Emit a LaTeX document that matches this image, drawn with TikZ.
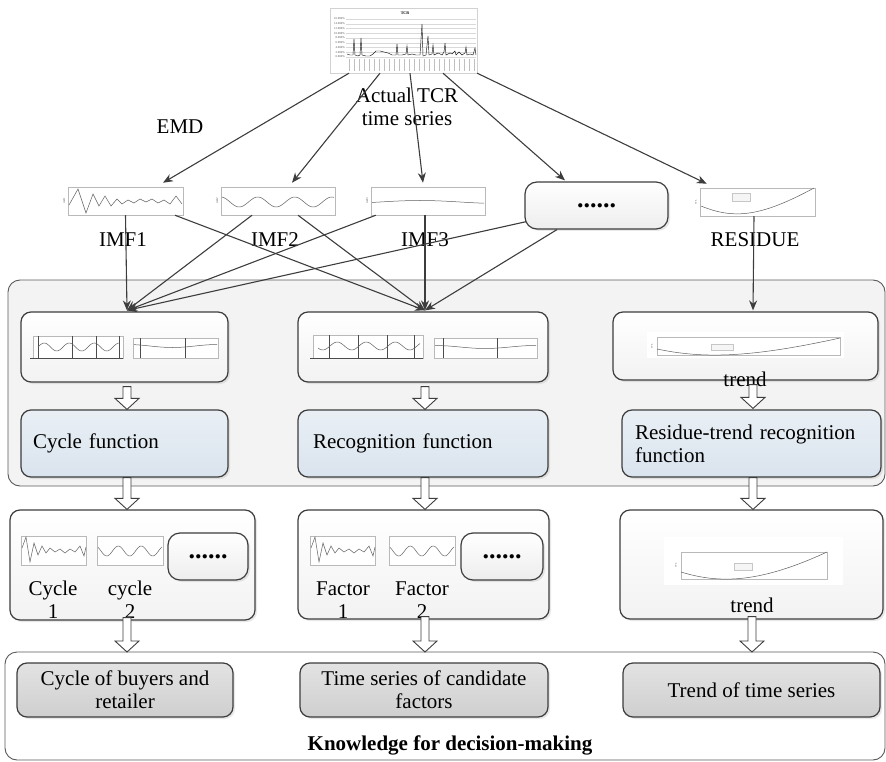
\documentclass[tikz,border=0pt]{standalone}
\usepackage{fontspec}
\setmainfont{Liberation Serif}
\usetikzlibrary{arrows.meta,calc,shadows}
\definecolor{edgegray}{HTML}{3D3D3D}
\definecolor{funblue}{HTML}{DAE4EE}
\definecolor{panelgray}{HTML}{F3F3F3}
% hollow block arrow: shaft starts at the height of #1, tip at #2
\newcommand\blockdown[2]{%
  \path[hollow] let \p1=#1, \p2=#2 in
    (\x2-4pt,\y1) -- (\x2-4pt,\y2+11pt) -- (\x2-12pt,\y2+11pt) -- (\x2,\y2)
    -- (\x2+12pt,\y2+11pt) -- (\x2+4pt,\y2+11pt) -- (\x2+4pt,\y1) -- cycle;}

\begin{document}
\begin{tikzpicture}[x=1pt,y=-1pt,
    font=\fontsize{21}{23}\selectfont,
    link/.style={draw=edgegray, line width=1.1pt, -{Stealth[length=10pt,width=8pt]}},
    hollow/.style={draw=edgegray, fill=white, line width=0.9pt, line join=miter},
    minichart/.style={draw=gray!55, fill=white, line width=0.5pt, inner sep=0pt},
    wave/.style={draw=gray!75!black, line width=0.5pt},
    tinylabel/.style={font=\fontsize{3}{3}\selectfont, text=gray!70!black, inner sep=0pt},
    group/.style={draw=edgegray!85, fill=panelgray, line width=0.9pt, rounded corners=12pt},
    roundbox/.style={draw=edgegray, line width=1.2pt, rounded corners=10pt, top color=white,
        bottom color=gray!10, drop shadow={opacity=0.18, shadow xshift=2pt, shadow yshift=-2pt},
        inner sep=0pt},
    funbox/.style={roundbox, top color=funblue!60, bottom color=funblue, align=left, inner ysep=0pt},
    resultbox/.style={roundbox, top color=gray!22, bottom color=gray!38, align=center},
    dotsbox/.style={roundbox, rounded corners=12pt, bottom color=gray!14, font=\bfseries\fontsize{26}{26}\selectfont}
]
\useasboundingbox (0,0) rectangle (886,762);

% TCR chart
\node[draw=gray!35, fill=white, minimum width=147pt, minimum height=65pt, inner sep=0pt] (tcr) at (403.5,40.5) {};
\node[font=\bfseries\fontsize{4}{4}\selectfont, inner sep=0pt] (tcrtitle) at (405,13) {TCR};
\foreach \i in {0,...,8} {
    \pgfmathsetmacro\gy{19+4.75*\i}
    \pgfmathtruncatemacro\lab{16-2*\i}
    \draw[gray!30, line width=0.3pt] (346,\gy) -- (476,\gy);
    \node[tinylabel, anchor=east] at (345,\gy) {\lab.000\%};
}
\foreach \k in {0,...,25}
    \draw[gray!50, line width=0.6pt] (349+5*\k,59) -- (349+5*\k,71);
\draw[gray!20!black, line width=0.45pt] plot[sharp plot] coordinates {(347,54) (350,55) (353,55) (354,39)
    (355,55) (358,56) (360,55) (361,38) (362,55) (366,56) (370,56) (373,54) (376,51) (380,51) (384,52)
    (388,53) (392,55) (396,55) (397,44) (398,55) (402,55) (406,54) (407,46) (408,55) (412,54) (416,55)
    (420,55) (422,24) (423,56) (426,55) (428,36) (429,55) (432,54) (433,45) (434,55) (438,53) (442,55)
    (444,52) (445,43) (446,55) (450,53) (452,54) (455,51) (456,55) (459,52) (462,55) (465,53) (466,47)
    (467,55) (470,54) (473,55) (475,48) (476,55)};
\node[align=center] (actual) at (407,107) {Actual TCR\\time series};
\node (emd) at (180,127) {EMD};

% IMF row
\node[minichart, minimum width=115pt, minimum height=28pt] (imfone) at (125.5,201) {};
\node[minichart, minimum width=114pt, minimum height=28pt] (imftwo) at (278,201) {};
\node[minichart, minimum width=114pt, minimum height=28pt] (imfthree) at (428,201) {};
\node[dotsbox, minimum width=143pt, minimum height=47pt] (dots) at (596.5,205.5) {......};
\node[minichart, minimum width=115pt, minimum height=28pt] (residue) at (757.5,202) {};
\node[tinylabel, rotate=90] at (64,201) {imf1};
\node[tinylabel, rotate=90] at (217,201) {imf2};
\node[tinylabel, rotate=90] at (367,201) {imf3};
\node[tinylabel, rotate=90] at (696,202) {res.};
\draw[wave] plot[sharp plot] coordinates {(69,205) (78,189) (86,213) (93,194) (99,206) (105,196) (111,206)
    (117,199) (122,204) (128,200) (134,203) (140,199) (146,202) (152,199) (158,203) (164,200) (170,204)
    (176,196) (182,204)};
\draw[wave] plot[domain=222:334, samples=80, smooth] (\x,{202+5*sin(360/37*(\x-230))});
\draw[wave] plot[domain=372:484, samples=50, smooth] (\x,{202-1.5*sin(360/160*(\x-380))});
\draw[wave] (701,206) .. controls (735,220) and (762,216) .. (814,188);
\node[draw=gray!45, fill=gray!8, minimum width=18pt, minimum height=8pt, inner sep=0pt] (reslegend) at (741,197) {};
\node (imfonelab) at (123,240) {IMF1};
\node (imftwolab) at (275,240) {IMF2};
\node (imfthreelab) at (425,240) {IMF3};
\node (residuelab) at (755,240) {RESIDUE};

% decomposition
\draw[link] ($(tcr.south)+(-54.5,0)$) -- ($(imfone.north)+(37.5,-4)$);
\draw[link] ($(tcr.south)+(-23.5,0)$) -- ($(imftwo.north)+(14,-4)$);
\draw[link] ($(tcr.south)+(6.5,0)$) -- ($(imfthree.north)+(-5,-4)$);
\draw[link] ($(tcr.south)+(39.5,0)$) -- ($(dots.north)+(-31.5,-1)$);
\draw[link] (tcr.south east) -- ($(residue.north west)+(7,-4)$);

% recognition panel
\draw[group] (8,280) rectangle (885,486);
\node[roundbox, minimum width=207pt, minimum height=70pt] (cycchart) at (124.5,347) {};
\node[roundbox, minimum width=250pt, minimum height=70pt] (recchart) at (423,347) {};
\node[roundbox, minimum width=265pt, minimum height=68pt] (reschart) at (745.5,346) {};
\node[funbox, minimum width=207pt, minimum height=67pt, inner xsep=12pt, text width=183pt] (cycfun) at (124.5,443.5) {Cycle function};
\node[funbox, minimum width=250pt, minimum height=67pt, inner xsep=15pt, text width=220pt] (recfun) at (423,443.5) {Recognition function};
\node[funbox, minimum width=259pt, minimum height=67pt, inner xsep=13pt, text width=233pt] (resfun) at (751.5,443.5) {Residue-trend recognition\\function};

% small charts inside the panel
\draw[minichart] (33,336) rectangle (123,358);
\foreach \vx in {38,72,96,119} \draw[gray!60!black, line width=0.4pt] (\vx,336) -- (\vx,358);
\draw[gray!60!black, line width=0.4pt] (30,358) -- (123,358);
\draw[wave] plot[domain=38:119, samples=60, smooth] (\x,{347-4*sin(360/25*(\x-38))});
\draw[minichart] (133,338) rectangle (218,358);
\foreach \vx in {140,185} \draw[gray!60!black, line width=0.4pt] (\vx,338) -- (\vx,358);
\draw[wave] plot[domain=134:217, samples=40, smooth] (\x,{346+1.5*sin(360/90*(\x-150))});
\draw[minichart] (313,335) rectangle (423,358);
\foreach \vx in {329,358,387,414} \draw[gray!60!black, line width=0.4pt] (\vx,335) -- (\vx,358);
\draw[gray!60!black, line width=0.4pt] (310,358) -- (423,358);
\draw[wave] plot[domain=318:420, samples=60, smooth] (\x,{346-4*sin(360/29*(\x-330))});
\draw[minichart] (434,338) rectangle (537,358);
\foreach \vx in {443,497} \draw[gray!60!black, line width=0.4pt] (\vx,338) -- (\vx,358);
\draw[wave] plot[domain=435:536, samples=40, smooth] (\x,{347+1.5*sin(360/100*(\x-460))});
\fill[white] (647,332) rectangle (844,358);
\draw[minichart] (657,337) rectangle (840,355);
\node[tinylabel, rotate=90] at (652,346) {res.};
\draw[wave] (657,349) .. controls (700,358) and (745,359) .. (840,338);
\node[draw=gray!45, fill=gray!8, minimum width=22pt, minimum height=6pt, inner sep=0pt] (reschartlegend) at (722,347) {};
\node (trendlab) at (745,379) {trend};

% links to the panel
\draw[link] (imfone.south) -- ($(cycchart.north)+(2.5,-1)$);
\draw[link] ($(imftwo.south)+(-26,0)$) -- ($(cycchart.north)+(2.5,-1)$);
\draw[link] ($(imfthree.south west)+(5,0)$) -- ($(cycchart.north)+(2.5,-1)$);
\draw[link] ($(dots.south west)+(2,-8)$) -- ($(cycchart.north)+(2.5,-1)$);
\draw[link] ($(imfone.south)+(49.5,0)$) -- ($(recchart.north)+(2,-1)$);
\draw[link] ($(imftwo.south)+(20,0)$) -- ($(recchart.north)+(2,-1)$);
\draw[link] ($(imfthree.south)+(-3,0)$) -- ($(recchart.north)+(2,-1)$);
\draw[link] ($(dots.south)+(-39.5,0)$) -- ($(recchart.north)+(2,-1)$);
\draw[link] ($(residue.south)+(-3.5,0)$) -- ($(reschart.north)+(7.5,-1)$);

\blockdown{($(cycchart.south)+(0,4)$)}{($(cycfun.north)+(2.5,0)$)}
\blockdown{($(recchart.south)+(0,4)$)}{($(recfun.north)+(2,0)$)}
\blockdown{($(reschart.south)+(0,4)$)}{($(resfun.north)+(1.5,-1)$)}

% identified components
\node[roundbox, minimum width=245pt, minimum height=110pt] (cycres) at (132.5,565) {};
\node[roundbox, minimum width=251pt, minimum height=109pt] (facres) at (423.5,564.5) {};
\node[roundbox, minimum width=263pt, minimum height=109pt] (trendres) at (751.5,564.5) {};
\node[dotsbox, minimum width=80pt, minimum height=47pt] (cycdots) at (208,556.5) {......};
\node[dotsbox, minimum width=82pt, minimum height=47pt] (facdots) at (502,556.5) {......};
\foreach \sx in {0,289} {
    \draw[minichart, xshift=\sx] (21,536) rectangle (86,565);
    \draw[wave, xshift=\sx] plot[sharp plot] coordinates {(22,548) (26,537) (30,562) (34,543) (38,555)
        (42,546) (46,553) (50,548) (55,552) (60,549) (65,553) (70,549) (75,552) (80,546) (84,556) (86,547)};
}
\foreach \sx in {97,389} {
    \draw[minichart] (\sx,536) rectangle (\sx+66,565);
    \draw[wave] plot[domain=\sx+1:\sx+65, samples=60, smooth] (\x,{551+5*sin(360/23*(\x-\sx-4))});
}
\node (cycone) at (53,600) [align=center] {Cycle\\1};
\node (cyctwo) at (130,600) [align=center] {cycle\\2};
\node (facone) at (343,600) [align=center] {Factor\\1};
\node (factwo) at (422,600) [align=center] {Factor\\2};
\fill[white] (664,537) rectangle (843,585);
\draw[minichart] (681,552) rectangle (827,579);
\node[tinylabel, rotate=90] at (676,565) {res.};
\draw[wave] (681,572) .. controls (720,584) and (760,583) .. (827,552);
\node[draw=gray!45, fill=gray!8, minimum width=18pt, minimum height=7pt, inner sep=0pt] (trendlegend) at (743,567) {};
\node (trendreslab) at (752,605) {trend};

\blockdown{(cycfun.south)}{($(cycres.north)+(-5.5,0)$)}
\blockdown{(recfun.south)}{($(facres.north)+(1.5,0)$)}
\blockdown{(resfun.south)}{($(trendres.north)+(1.5,0)$)}

% knowledge
\draw[group, fill=white] (5,652) rectangle (885,760);
\node[resultbox, minimum width=216pt, minimum height=54pt] (buyers) at (125,690) {Cycle of buyers and\\retailer};
\node[resultbox, minimum width=248pt, minimum height=54pt] (candidates) at (424,690) {Time series of candidate\\factors};
\node[resultbox, minimum width=257pt, minimum height=54pt] (trendknow) at (751.5,690) {Trend of time series};
\node[font=\bfseries\fontsize{21}{23}\selectfont] (knowledge) at (450,745) {Knowledge for decision-making};

\blockdown{($(cycres.south)+(0,-3)$)}{(127,652)}
\blockdown{($(facres.south)+(0,-3)$)}{(425,652)}
\blockdown{($(trendres.south)+(0,-3)$)}{(752,652)}
\end{tikzpicture}
\end{document}
